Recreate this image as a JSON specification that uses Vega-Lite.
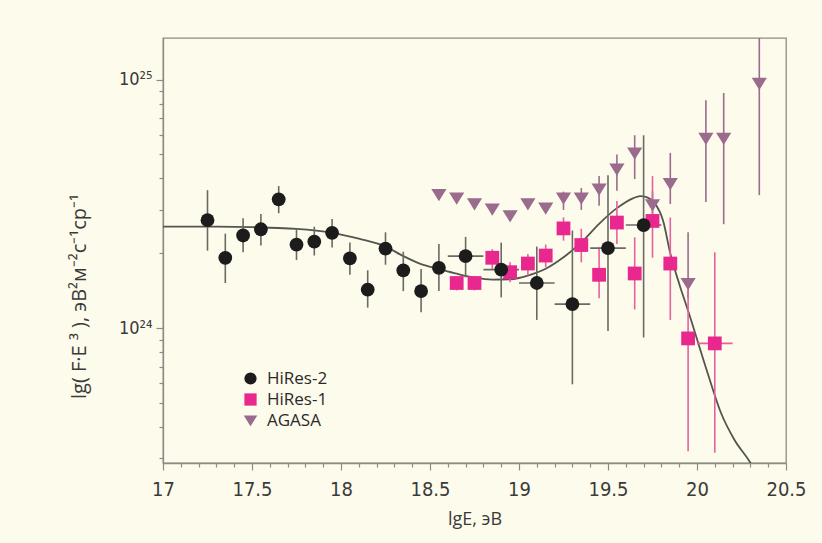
{
  "$schema": "https://vega.github.io/schema/vega-lite/v6.json",
  "width": 623,
  "height": 425,
  "autosize": {"type": "none"},
  "padding": {"left": 163, "top": 38, "right": 36, "bottom": 80},
  "background": "#fdfbeb",
  "config": {
    "view": {"stroke": "#8c8c84", "strokeWidth": 1.3},
    "font": "DejaVu Sans Condensed, Roboto, sans-serif",
    "axis": {
      "domainColor": "#8c8c84",
      "domainWidth": 1.3,
      "tickColor": "#8c8c84",
      "tickWidth": 1.2,
      "grid": false,
      "labelColor": "#3a3a3a",
      "titleColor": "#3a3a3a",
      "labelFont": "DejaVu Sans Condensed, Roboto, sans-serif",
      "titleFont": "DejaVu Sans Condensed, Roboto, sans-serif",
      "titleFontWeight": "normal"
    }
  },
  "datasets": {
    "points": [
      {"series": "HiRes-2", "x": 17.25, "y": 2.72e24, "ylo": 2.05e24, "yhi": 3.59e24},
      {"series": "HiRes-2", "x": 17.35, "y": 1.92e24, "ylo": 1.52e24, "yhi": 2.40e24},
      {"series": "HiRes-2", "x": 17.45, "y": 2.36e24, "ylo": 2.02e24, "yhi": 2.77e24},
      {"series": "HiRes-2", "x": 17.55, "y": 2.50e24, "ylo": 2.15e24, "yhi": 2.88e24},
      {"series": "HiRes-2", "x": 17.65, "y": 3.30e24, "ylo": 2.90e24, "yhi": 3.73e24},
      {"series": "HiRes-2", "x": 17.75, "y": 2.17e24, "ylo": 1.88e24, "yhi": 2.51e24},
      {"series": "HiRes-2", "x": 17.85, "y": 2.23e24, "ylo": 1.96e24, "yhi": 2.56e24},
      {"series": "HiRes-2", "x": 17.95, "y": 2.42e24, "ylo": 2.11e24, "yhi": 2.75e24},
      {"series": "HiRes-2", "x": 18.05, "y": 1.91e24, "ylo": 1.64e24, "yhi": 2.21e24},
      {"series": "HiRes-2", "x": 18.15, "y": 1.43e24, "ylo": 1.21e24, "yhi": 1.71e24},
      {"series": "HiRes-2", "x": 18.25, "y": 2.09e24, "ylo": 1.80e24, "yhi": 2.43e24},
      {"series": "HiRes-2", "x": 18.35, "y": 1.71e24, "ylo": 1.41e24, "yhi": 2.03e24},
      {"series": "HiRes-2", "x": 18.45, "y": 1.41e24, "ylo": 1.16e24, "yhi": 1.73e24},
      {"series": "HiRes-2", "x": 18.55, "y": 1.75e24, "ylo": 1.41e24, "yhi": 2.18e24},
      {"series": "HiRes-2", "x": 18.70, "y": 1.95e24, "ylo": 1.60e24, "yhi": 2.33e24, "xlo": 18.60, "xhi": 18.80},
      {"series": "HiRes-2", "x": 18.90, "y": 1.72e24, "ylo": 1.33e24, "yhi": 2.21e24, "xlo": 18.80, "xhi": 19.00},
      {"series": "HiRes-2", "x": 19.10, "y": 1.52e24, "ylo": 1.08e24, "yhi": 2.13e24, "xlo": 19.00, "xhi": 19.20},
      {"series": "HiRes-2", "x": 19.30, "y": 1.25e24, "ylo": 5.95e23, "yhi": 2.47e24, "xlo": 19.20, "xhi": 19.40},
      {"series": "HiRes-2", "x": 19.50, "y": 2.10e24, "ylo": 9.75e23, "yhi": 4.12e24, "xlo": 19.40, "xhi": 19.60},
      {"series": "HiRes-2", "x": 19.70, "y": 2.60e24, "ylo": 9.18e23, "yhi": 5.97e24, "xlo": 19.60, "xhi": 19.80},
      {"series": "HiRes-1", "x": 18.65, "y": 1.52e24, "ylo": 1.42e24, "yhi": 1.60e24},
      {"series": "HiRes-1", "x": 18.75, "y": 1.52e24, "ylo": 1.42e24, "yhi": 1.60e24},
      {"series": "HiRes-1", "x": 18.85, "y": 1.92e24, "ylo": 1.73e24, "yhi": 2.08e24},
      {"series": "HiRes-1", "x": 18.95, "y": 1.68e24, "ylo": 1.53e24, "yhi": 1.84e24},
      {"series": "HiRes-1", "x": 19.05, "y": 1.82e24, "ylo": 1.63e24, "yhi": 1.99e24},
      {"series": "HiRes-1", "x": 19.15, "y": 1.96e24, "ylo": 1.76e24, "yhi": 2.17e24},
      {"series": "HiRes-1", "x": 19.25, "y": 2.52e24, "ylo": 2.25e24, "yhi": 2.79e24},
      {"series": "HiRes-1", "x": 19.35, "y": 2.16e24, "ylo": 1.84e24, "yhi": 2.51e24},
      {"series": "HiRes-1", "x": 19.45, "y": 1.64e24, "ylo": 1.32e24, "yhi": 2.11e24},
      {"series": "HiRes-1", "x": 19.55, "y": 2.66e24, "ylo": 2.18e24, "yhi": 3.25e24},
      {"series": "HiRes-1", "x": 19.65, "y": 1.66e24, "ylo": 1.19e24, "yhi": 2.32e24},
      {"series": "HiRes-1", "x": 19.75, "y": 2.70e24, "ylo": 1.92e24, "yhi": 4.09e24},
      {"series": "HiRes-1", "x": 19.85, "y": 1.82e24, "ylo": 1.08e24, "yhi": 2.79e24},
      {"series": "HiRes-1", "x": 19.95, "y": 9.10e23, "ylo": 3.20e23, "yhi": 1.41e24},
      {"series": "HiRes-1", "x": 20.10, "y": 8.69e23, "ylo": 3.16e23, "yhi": 2.02e24, "xlo": 20.00, "xhi": 20.20},
      {"series": "AGASA", "x": 18.55, "y": 3.44e24},
      {"series": "AGASA", "x": 18.65, "y": 3.33e24},
      {"series": "AGASA", "x": 18.75, "y": 3.16e24},
      {"series": "AGASA", "x": 18.85, "y": 3.01e24},
      {"series": "AGASA", "x": 18.95, "y": 2.83e24},
      {"series": "AGASA", "x": 19.05, "y": 3.16e24},
      {"series": "AGASA", "x": 19.15, "y": 3.04e24},
      {"series": "AGASA", "x": 19.25, "y": 3.33e24, "ylo": 2.99e24, "yhi": 3.54e24},
      {"series": "AGASA", "x": 19.35, "y": 3.33e24, "ylo": 2.99e24, "yhi": 3.66e24},
      {"series": "AGASA", "x": 19.45, "y": 3.62e24, "ylo": 3.11e24, "yhi": 4.09e24},
      {"series": "AGASA", "x": 19.55, "y": 4.36e24, "ylo": 3.57e24, "yhi": 5.00e24},
      {"series": "AGASA", "x": 19.65, "y": 5.05e24, "ylo": 3.98e24, "yhi": 5.97e24},
      {"series": "AGASA", "x": 19.75, "y": 3.13e24, "ylo": 2.75e24, "yhi": 3.55e24},
      {"series": "AGASA", "x": 19.85, "y": 3.81e24, "ylo": 3.16e24, "yhi": 5.07e24},
      {"series": "AGASA", "x": 19.95, "y": 1.51e24, "ylo": 1.32e24, "yhi": 2.43e24},
      {"series": "AGASA", "x": 20.05, "y": 5.79e24, "ylo": 3.22e24, "yhi": 8.26e24},
      {"series": "AGASA", "x": 20.15, "y": 5.79e24, "ylo": 2.62e24, "yhi": 8.83e24},
      {"series": "AGASA", "x": 20.35, "y": 9.64e24, "ylo": 3.43e24, "yhi": 1.78e25}
    ],
    "curve": [
      {"x": 17.0, "y": 2.56e24},
      {"x": 17.3, "y": 2.56e24},
      {"x": 17.5, "y": 2.55e24},
      {"x": 17.6, "y": 2.535e24},
      {"x": 17.75, "y": 2.51e24},
      {"x": 17.95, "y": 2.42e24},
      {"x": 18.1, "y": 2.29e24},
      {"x": 18.25, "y": 2.13e24},
      {"x": 18.35, "y": 1.95e24},
      {"x": 18.45, "y": 1.81e24},
      {"x": 18.55, "y": 1.73e24},
      {"x": 18.65, "y": 1.656e24},
      {"x": 18.75, "y": 1.596e24},
      {"x": 18.85, "y": 1.567e24},
      {"x": 18.95, "y": 1.574e24},
      {"x": 19.05, "y": 1.629e24},
      {"x": 19.15, "y": 1.734e24},
      {"x": 19.25, "y": 1.928e24},
      {"x": 19.35, "y": 2.213e24},
      {"x": 19.45, "y": 2.63e24},
      {"x": 19.55, "y": 3.04e24},
      {"x": 19.64, "y": 3.33e24},
      {"x": 19.68, "y": 3.40e24},
      {"x": 19.72, "y": 3.36e24},
      {"x": 19.76, "y": 3.20e24},
      {"x": 19.81, "y": 2.70e24},
      {"x": 19.85, "y": 2.0e24},
      {"x": 19.9, "y": 1.51e24},
      {"x": 19.955, "y": 1.146e24},
      {"x": 20.06, "y": 6.59e23},
      {"x": 20.135, "y": 4.56e23},
      {"x": 20.21, "y": 3.56e23},
      {"x": 20.30, "y": 2.877e23},
      {"x": 20.33, "y": 2.63e23}
    ]
  },
  "encoding": {
    "x": {
      "field": "x", "type": "quantitative",
      "scale": {"domain": [17, 20.5], "nice": false, "zero": false},
      "axis": {
        "title": "lgE, эВ",
        "titleFont": "Open Sans",
        "titleFontSize": 18,
        "titlePadding": 11,
        "labelFontSize": 20,
        "labelPadding": 9,
        "labelFlush": false,
        "tickSize": {"condition": {"test": "abs(datum.value*2 - round(datum.value*2)) < 0.001", "value": 7}, "value": 4},
        "values": [17, 17.1, 17.2, 17.3, 17.4, 17.5, 17.6, 17.7, 17.8, 17.9, 18, 18.1, 18.2, 18.3, 18.4, 18.5, 18.6, 18.7, 18.8, 18.9, 19, 19.1, 19.2, 19.3, 19.4, 19.5, 19.6, 19.7, 19.8, 19.9, 20, 20.1, 20.2, 20.3, 20.4, 20.5],
        "labelExpr": "abs(datum.value*2 - round(datum.value*2)) < 0.001 ? format(datum.value, '~g') : ''"
      }
    }
  },
  "layer": [
    {
      "data": {"name": "curve"},
      "mark": {"type": "line", "color": "#55554f", "strokeWidth": 1.8, "interpolate": "monotone", "clip": true},
      "encoding": {
        "y": {
          "field": "y", "type": "quantitative",
          "scale": {"type": "log", "domain": [2.871e23, 1.469e25], "nice": false},
          "axis": {
            "title": "lg( F·E ³ ), эВ²м⁻²с⁻¹ср⁻¹",
            "titleFont": "Open Sans",
            "titleFontSize": 20,
            "titlePadding": 29,
            "titleY": 258,
            "labelFontSize": 18,
            "labelPadding": 4,
            "tickSize": {"condition": {"test": "datum.value == 1e24 || datum.value == 1e25", "value": 7}, "value": 4},
            "values": [3e23, 4e23, 5e23, 6e23, 7e23, 8e23, 9e23, 1e24, 2e24, 3e24, 4e24, 5e24, 6e24, 7e24, 8e24, 9e24, 1e25],
            "labelExpr": "datum.value == 1e24 ? '10²⁴' : (datum.value == 1e25 ? '10²⁵' : '')"
          }
        }
      }
    },
    {
      "data": {"name": "points"},
      "transform": [{"filter": "datum.series == 'AGASA' && isValid(datum.ylo)"}],
      "mark": {"type": "rule", "color": "#9a6b8d", "strokeWidth": 1.6, "clip": true},
      "encoding": {"y": {"field": "ylo", "type": "quantitative"}, "y2": {"field": "yhi"}}
    },
    {
      "data": {"name": "points"},
      "transform": [{"filter": "datum.series == 'HiRes-1'"}],
      "mark": {"type": "rule", "color": "#e8609f", "strokeWidth": 1.6, "clip": true},
      "encoding": {"y": {"field": "ylo", "type": "quantitative"}, "y2": {"field": "yhi"}}
    },
    {
      "data": {"name": "points"},
      "transform": [{"filter": "datum.series == 'HiRes-1' && isValid(datum.xlo)"}],
      "mark": {"type": "rule", "color": "#e8609f", "strokeWidth": 1.6},
      "encoding": {"x": {"field": "xlo"}, "x2": {"field": "xhi"}, "y": {"field": "y", "type": "quantitative"}}
    },
    {
      "data": {"name": "points"},
      "transform": [{"filter": "datum.series == 'HiRes-2'"}],
      "mark": {"type": "rule", "color": "#6a6a62", "strokeWidth": 1.6, "clip": true},
      "encoding": {"y": {"field": "ylo", "type": "quantitative"}, "y2": {"field": "yhi"}}
    },
    {
      "data": {"name": "points"},
      "transform": [{"filter": "datum.series == 'HiRes-2' && isValid(datum.xlo)"}],
      "mark": {"type": "rule", "color": "#6a6a62", "strokeWidth": 1.6},
      "encoding": {"x": {"field": "xlo"}, "x2": {"field": "xhi"}, "y": {"field": "y", "type": "quantitative"}}
    },
    {
      "data": {"name": "points"},
      "transform": [{"calculate": "datum.series == 'AGASA' ? 0 : (datum.series == 'HiRes-1' ? 1 : 2)", "as": "ord"}],
      "mark": {"type": "point", "filled": true, "opacity": 1, "strokeWidth": 0, "size": 190},
      "encoding": {
        "y": {"field": "y", "type": "quantitative"},
        "order": {"field": "ord", "type": "quantitative"},
        "color": {
          "field": "series", "type": "nominal",
          "scale": {"domain": ["HiRes-2", "HiRes-1", "AGASA"], "range": ["#1c1c1c", "#e8288f", "#9a6b8d"]},
          "legend": {
            "title": null,
            "orient": "none",
            "legendX": 79,
            "legendY": 332,
            "padding": 0,
            "labelFont": "Open Sans",
            "labelFontSize": 17,
            "labelColor": "#2a2a2a",
            "labelOffset": 8,
            "symbolSize": 150,
            "rowPadding": 3,
            "symbolStrokeWidth": 0
          }
        },
        "shape": {
          "field": "series", "type": "nominal",
          "scale": {"domain": ["HiRes-2", "HiRes-1", "AGASA"], "range": ["circle", "square", "M-1.1,-0.83L1.1,-0.83L0,0.95Z"]}
        }
      }
    }
  ]
}
